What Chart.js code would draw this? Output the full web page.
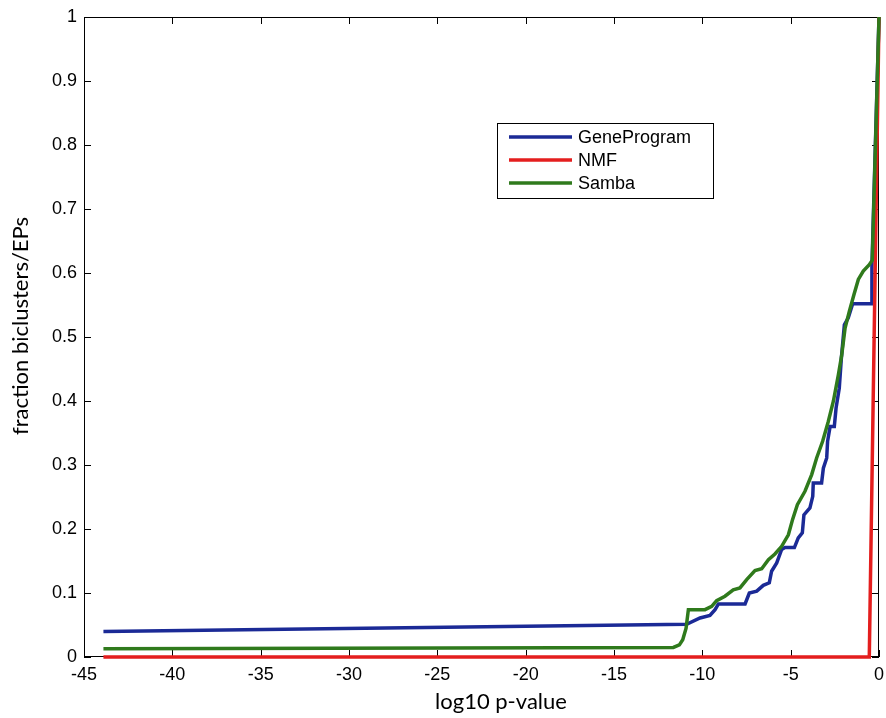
<!DOCTYPE html>
<html><head><meta charset="utf-8">
<script src="https://cdn.jsdelivr.net/npm/chart.js@4/dist/chart.umd.min.js"></script>
<style>html,body{margin:0;padding:0;background:#fff}#wrap{width:886px;height:718px}</style>
</head><body><div id="wrap"><canvas id="c" width="886" height="718"></canvas></div>
<script>
const seriesNames = ['GeneProgram', 'NMF', 'Samba'];
const seriesColors = ['#1b2a96', '#e41e1e', '#2f7a1c'];
const xTickLabels = ['-45','-40','-35','-30','-25','-20','-15','-10','-5','0'];
const yTickLabels = ['0','0.1','0.2','0.3','0.4','0.5','0.6','0.7','0.8','0.9','1'];
const xTitle = 'log10 p-value';
const yTitle = 'fraction biclusters/EPs';

const geneX = [-43.9,-10.89,-10.13,-9.57,-9.28,-9.09,-7.58,-7.34,-6.92,-6.55,-6.21,-6.08,-5.79,-5.51,-5.32,-4.79,-4.57,-4.34,-4.25,-3.91,-3.75,-3.72,-3.25,-3.15,-2.96,-2.91,-2.77,-2.53,-2.43,-2.25,-2.13,-1.96,-1.74,-1.49,-0.42,-0.40,0];
const geneY = [0.040,0.051,0.061,0.065,0.074,0.083,0.083,0.100,0.103,0.112,0.116,0.134,0.147,0.168,0.171,0.171,0.186,0.194,0.222,0.233,0.251,0.272,0.272,0.295,0.311,0.337,0.360,0.360,0.389,0.420,0.467,0.519,0.530,0.552,0.552,0.610,1.0];

const nmfX = [-43.9,-0.55,0];
const nmfY = [0,0,1.0];

const sambaX = [-43.9,-11.64,-11.30,-11.11,-10.92,-10.79,-9.85,-9.47,-9.19,-8.72,-8.25,-7.87,-7.49,-7.02,-6.64,-6.26,-5.89,-5.51,-5.13,-4.89,-4.62,-4.19,-3.81,-3.53,-3.19,-2.87,-2.58,-2.30,-2.11,-1.92,-1.68,-1.42,-1.17,-0.89,-0.55,-0.38,0];
const sambaY = [0.013,0.015,0.019,0.027,0.045,0.074,0.074,0.079,0.088,0.095,0.105,0.108,0.121,0.135,0.138,0.152,0.161,0.173,0.191,0.215,0.238,0.259,0.285,0.311,0.337,0.368,0.400,0.441,0.472,0.514,0.540,0.566,0.590,0.603,0.613,0.620,1.0];

function pts(xs, ys){ return xs.map((x,i)=>({x:x, y:ys[i]})); }

const tickFont = {family:'"Liberation Sans", Arial, sans-serif', size:18};

const boxPlugin = {
  id:'box',
  beforeDatasetsDraw(chart){
    const {ctx, chartArea:a, scales} = chart;
    ctx.save();
    ctx.strokeStyle = '#000'; ctx.lineWidth = 1;
    ctx.strokeRect(a.left+0.5, a.top+0.5, a.right-a.left-1, a.bottom-a.top-1);
    const L = 7;
    ctx.beginPath();
    scales.x.ticks.forEach(t=>{
      const px = Math.round(scales.x.getPixelForValue(t.value))+0.5;
      ctx.moveTo(px, a.bottom); ctx.lineTo(px, a.bottom-L);
      ctx.moveTo(px, a.top); ctx.lineTo(px, a.top+L);
    });
    scales.y.ticks.forEach(t=>{
      const py = Math.round(scales.y.getPixelForValue(t.value))+0.5;
      ctx.moveTo(a.left, py); ctx.lineTo(a.left+L, py);
      ctx.moveTo(a.right, py); ctx.lineTo(a.right-L, py);
    });
    ctx.stroke();
    ctx.restore();
  },
  afterDraw(chart){
    const {ctx} = chart;
    ctx.save();
    // legend
    const bx = 497, by = 123, bw = 216, bh = 75;
    ctx.fillStyle = '#fff';
    ctx.fillRect(bx, by, bw, bh);
    ctx.strokeStyle = '#000'; ctx.lineWidth = 1;
    ctx.strokeRect(bx+0.5, by+0.5, bw, bh);
    ctx.font = '18px "Liberation Sans", Arial, sans-serif';
    ctx.textBaseline = 'middle'; ctx.textAlign = 'left';
    const rows = [137, 160, 183];
    seriesNames.forEach((n,i)=>{
      ctx.strokeStyle = seriesColors[i]; ctx.lineWidth = 3.5;
      ctx.beginPath(); ctx.moveTo(509, rows[i]); ctx.lineTo(572, rows[i]); ctx.stroke();
      ctx.fillStyle = '#000';
      ctx.fillText(n, 578, rows[i]+1);
    });
    // axis titles
    ctx.font = '22px Lato, "Open Sans", sans-serif';
    ctx.fillStyle = '#000';
    ctx.textAlign = 'center'; ctx.textBaseline = 'alphabetic';
    ctx.fillText(xTitle, 501, 709);
    ctx.translate(28, 326);
    ctx.rotate(-Math.PI/2);
    ctx.fillText(yTitle, 0, 0);
    ctx.restore();
  }
};

new Chart(document.getElementById('c'), {
  type:'line',
  data:{
    datasets:[
      {label:seriesNames[0], data:pts(geneX,geneY), borderColor:seriesColors[0], borderWidth:3.5, pointRadius:0, tension:0, clip:false, order:2},
      {label:seriesNames[1], data:pts(nmfX,nmfY), borderColor:seriesColors[1], borderWidth:3.5, pointRadius:0, tension:0, clip:false, order:1},
      {label:seriesNames[2], data:pts(sambaX,sambaY), borderColor:seriesColors[2], borderWidth:3.5, pointRadius:0, tension:0, clip:false, order:0}
    ]
  },
  options:{
    responsive:false, animation:false, devicePixelRatio:1,
    layout:{autoPadding:false, padding:{left:0, top:17, right:7, bottom:0}},
    plugins:{legend:{display:false}, tooltip:{enabled:false}},
    scales:{
      x:{type:'linear', min:-45, max:0,
         ticks:{stepSize:5, font:tickFont, color:'#000', padding:7, maxRotation:0, autoSkip:false,
                callback:(v,i)=>xTickLabels[i]},
         grid:{display:false, drawTicks:false}, border:{display:false},
         afterFit:s=>{s.height = 61; s.paddingLeft = 0; s.paddingRight = 0;}},
      y:{type:'linear', min:0, max:1,
         ticks:{stepSize:0.1, font:tickFont, color:'#000', padding:7, autoSkip:false,
                callback:(v,i)=>yTickLabels[i]},
         grid:{display:false, drawTicks:false}, border:{display:false},
         afterFit:s=>{s.width = 84; s.paddingTop = 0; s.paddingBottom = 0;}}
    }
  },
  plugins:[boxPlugin]
});
</script></body></html>
